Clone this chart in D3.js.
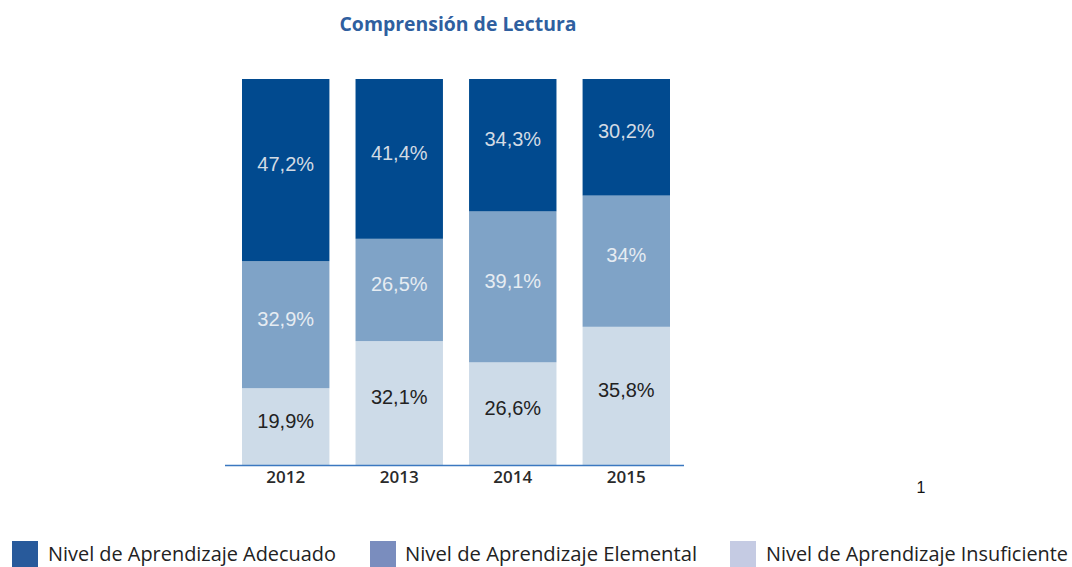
<!DOCTYPE html>
<html>
<head>
<meta charset="utf-8">
<script src="https://cdn.jsdelivr.net/npm/d3@7"></script>
<style>
  body { margin: 0; background: #fff; }
  svg { display: block; }
</style>
</head>
<body>
<div id="chart"></div>
<script>
const width = 1072
const height = 567

// data
const years = ["2012", "2013", "2014", "2015"]
const levels = ["Insuficiente", "Elemental", "Adecuado"]
const insuficiente = [19.9, 32.1, 26.6, 35.8]
const elemental = [32.9, 26.5, 39.1, 34]
const adecuado = [47.2, 41.4, 34.3, 30.2]
const legendLabels = [
  "Nivel de Aprendizaje Adecuado",
  "Nivel de Aprendizaje Elemental",
  "Nivel de Aprendizaje Insuficiente"
]

const barColor = { Adecuado: "#014a8f", Elemental: "#7fa3c7", Insuficiente: "#cddbe8" }
const labelColor = { Adecuado: "#d3dbe4", Elemental: "#e6ecf2", Insuficiente: "#222" }
const legendColor = ["#285a9b", "#7a8dbe", "#c5cbe3"]

const rows = years.map((y, i) => ({
  year: y,
  Insuficiente: insuficiente[i],
  Elemental: elemental[i],
  Adecuado: adecuado[i]
}))

const stacked = d3.stack().keys(levels)(rows)

const svg = d3.select("#chart")
  .append("svg")
  .attr("width", width)
  .attr("height", height)

const xScale = d3.scaleBand()
  .domain(years)
  .range([242, 670])
  .paddingInner(0.23)
  .paddingOuter(0)

const yScale = d3.scaleLinear()
  .domain([0, 100])
  .range([465, 79])

// title
svg.append("text")
  .attr("x", 458)
  .attr("y", 31)
  .attr("text-anchor", "middle")
  .attr("font-family", "'Open Sans', sans-serif")
  .attr("font-weight", "bold")
  .attr("font-size", 19)
  .attr("fill", "#2f5f9f")
  .attr("textLength", 237)
  .attr("lengthAdjust", "spacingAndGlyphs")
  .text("Comprensión de Lectura")

const groups = svg.selectAll("g.layer")
  .data(stacked)
  .join("g")
  .attr("class", "layer")
  .attr("fill", d => barColor[d.key])

groups.selectAll("rect")
  .data(d => d)
  .join("rect")
  .attr("x", d => xScale(d.data.year))
  .attr("width", xScale.bandwidth())
  .attr("y", d => yScale(d[1]))
  .attr("height", d => yScale(d[0]) - yScale(d[1]))

groups.each(function(layer) {
  d3.select(this).selectAll("text")
    .data(layer)
    .join("text")
    .attr("x", d => xScale(d.data.year) + xScale.bandwidth() / 2)
    .attr("y", d => (yScale(d[0]) + yScale(d[1])) / 2 - 6)
    .attr("dy", "0.35em")
    .attr("text-anchor", "middle")
    .attr("font-family", "'Liberation Sans', Arial, sans-serif")
    .attr("font-size", 20)
    .attr("fill", labelColor[layer.key])
    .text(d => String(d.data[layer.key]).replace(".", ",") + "%")
})

// x axis
const xAxis = svg.append("g")
  .attr("transform", "translate(0,465)")
  .call(d3.axisBottom(xScale).tickSize(0).tickPadding(6))

xAxis.select(".domain")
  .attr("d", "M225,0.5H684")
  .attr("stroke", "#3b78c0")
  .attr("stroke-width", 1.5)

xAxis.selectAll("text")
  .attr("font-family", "'Open Sans', sans-serif")
  .attr("font-size", 17)
  .attr("font-weight", 600)
  .attr("fill", "#2a2a2a")

// stray footnote number
svg.append("text")
  .attr("x", 921)
  .attr("y", 493)
  .attr("text-anchor", "middle")
  .attr("font-family", "'Liberation Sans', Arial, sans-serif")
  .attr("font-size", 16)
  .attr("fill", "#111")
  .text("1")

// legend
const legendX = [12, 370, 730]
const legendTextX = [48, 405, 766]
const legendW = [288, 292, 302]
const legend = svg.selectAll("g.legend")
  .data(legendLabels)
  .join("g")
  .attr("class", "legend")

legend.append("rect")
  .attr("x", (d, i) => legendX[i])
  .attr("y", 541)
  .attr("width", 26)
  .attr("height", 26)
  .attr("fill", (d, i) => legendColor[i])

legend.append("text")
  .attr("x", (d, i) => legendTextX[i])
  .attr("y", 561)
  .attr("font-family", "'Open Sans', sans-serif")
  .attr("font-size", 20)
  .attr("fill", "#222")
  .attr("textLength", (d, i) => legendW[i])
  .attr("lengthAdjust", "spacingAndGlyphs")
  .text(d => d)
</script>
</body>
</html>
